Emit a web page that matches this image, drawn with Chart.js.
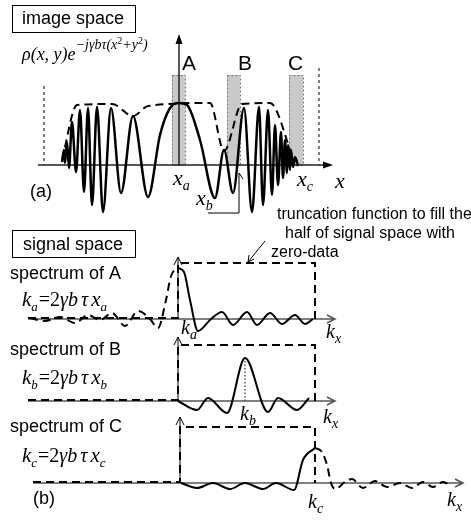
<!DOCTYPE html>
<html>
<head>
<meta charset="utf-8">
<script src="https://cdn.jsdelivr.net/npm/chart.js"></script>
<style>
body { margin: 0; background: #fff; }
#wrap { width: 471px; height: 520px; position: relative; }
</style>
</head>
<body>
<div id="wrap"><canvas id="myChart"></canvas></div>
<script>
// All values are in figure units (x: 0..471 left to right, y: 0..520 top to bottom)

// (a) image space: chirped signal and its envelope
let chirpPoints = [[62,162],[64,150],[65,163],[67,142],[69,168],[72,122],[76,172],[80,110],[84,192],[88,108],
    [92,205],[97,107],[103,212],[111,108],[121,193],[133,116],[148,197],[160,135],[170,108],[179,103],
    [187,105],[200,140],[215,198],[224,150],[233,193],[244,108],[252,212],[259,107],[263,205],[268,110],
    [272,195],[275,125],[278,185],[281,132],[283,178],[285,140],[287,173],[288,145],[290,170],[291,150],
    [293,167],[295,157],[298,166]];
let envelopePoints = [[62,160],[77,105],[112,104],[133,116],[148,106],[210,103],[224,151],[242,104],[270,103],[293,158]];

// windows A, B, C
let windowLabels = ["A", "B", "C"];
let windowFrom = [172, 227, 289];
let windowTo = [185, 240, 303];
let windowLabelX = [182, 238, 288];

// (b) signal space: spectra of the three windows
let spectrumA = [[178,268],[184,272],[190,300],[198,331],[210,320],[222,312],[233,325],[247,312],[257,325],[270,313],[282,324],[295,315],[305,324],[313,319]];
let spectrumALost = [[30,318],[45,321],[60,317],[75,323],[88,315],[100,320],[112,313],[125,326],[138,311],[150,319],[158,328],[166,300],[171,276],[178,268]];
let spectrumB = [[178,401],[197,410],[208,398],[227,413],[245,358],[268,412],[278,398],[297,410],[309,398]];
let spectrumC = [[181,483],[197,488],[213,483],[230,489],[245,483],[263,489],[276,483],[294,490],[303,460],[315,448]];
let spectrumCLost = [[315,448],[322,452],[327,465],[331,483],[335,489],[345,482],[352,479],[363,488],[375,481],[387,487],[400,483],[412,488],[423,482],[433,487],[443,482],[448,484]];

// truncation functions (zero left of k, one up to the band edge)
let truncA = [[28,318],[178,318],[178,263],[315,263],[315,319]];
let truncB = [[28,400],[178,400],[178,345],[315,345],[315,401]];
let truncC = [[33,482],[180,482],[180,427],[315,427],[315,483]];

// axes of each panel: [x from, x to, y of axis, x of vertical, y top of vertical]
let axisImage = [38, 333, 165, 179, 34];
let axisSpecA = [28, 335, 319, 178, 257];
let axisSpecB = [28, 335, 401, 178, 337];
let axisSpecC = [33, 463, 483, 180, 417];

const serif = '"Liberation Serif", "Times New Roman", serif';
const sans = 'Arial, "Liberation Sans", sans-serif';

let toXY = pts => pts.map(p => ({ x: p[0], y: p[1] }));

let curve = (pts, dashed, width) => ({
    data: toXY(pts),
    showLine: true,
    borderColor: '#000',
    borderWidth: width,
    borderDash: dashed ? [8, 5] : [],
    pointRadius: 0,
    fill: false,
    cubicInterpolationMode: 'monotone'
});

let step = (pts) => ({
    data: toXY(pts),
    showLine: true,
    borderColor: '#000',
    borderWidth: 2,
    borderDash: [8, 5],
    pointRadius: 0,
    fill: false,
    tension: 0
});

// Draw a run of text pieces (sub/superscripts) from a starting point
let rich = (ctx, x, y, parts) => {
    let cx = x;
    parts.forEach(p => {
        ctx.font = (p.i ? 'italic ' : '') + p.s + 'px ' + serif;
        ctx.fillText(p.t, cx, y + (p.dy || 0));
        cx += ctx.measureText(p.t).width + (p.gap || 0);
    });
};

let formula = (k, sub) => [
    { t: k, i: true, s: 21 }, { t: sub, i: true, s: 13, dy: 5, gap: 1 },
    { t: '=2', s: 20 }, { t: 'γb', i: true, s: 20, gap: 3 }, { t: 'τ', i: true, s: 20, gap: 3 },
    { t: 'x', i: true, s: 21 }, { t: sub, i: true, s: 13, dy: 5 }
];

let figurePlugin = {
    id: 'figure',
    beforeDatasetsDraw(chart) {
        const ctx = chart.ctx;
        const X = v => chart.scales.x.getPixelForValue(v);
        const Y = v => chart.scales.y.getPixelForValue(v);
        ctx.save();

        // gray windows with dotted frames
        windowLabels.forEach((lab, i) => {
            ctx.fillStyle = '#c9c9c9';
            ctx.fillRect(X(windowFrom[i]), Y(75), X(windowTo[i]) - X(windowFrom[i]), Y(165) - Y(75));
            ctx.setLineDash([2, 2]);
            ctx.strokeStyle = '#777';
            ctx.lineWidth = 1;
            ctx.strokeRect(X(windowFrom[i]) + 0.5, Y(75) + 0.5, X(windowTo[i]) - X(windowFrom[i]), Y(165) - Y(75));
        });

        // thin dashed limits of the object
        ctx.setLineDash([3, 3]);
        ctx.strokeStyle = '#000';
        ctx.beginPath();
        ctx.moveTo(X(44), Y(86)); ctx.lineTo(X(44), Y(165));
        ctx.moveTo(X(319), Y(68)); ctx.lineTo(X(319), Y(165));
        ctx.stroke();

        // dotted line under the peak of B
        ctx.setLineDash([1.5, 2]);
        ctx.beginPath();
        ctx.moveTo(X(245), Y(401)); ctx.lineTo(X(245), Y(360));
        ctx.stroke();
        ctx.setLineDash([]);

        // image space axes with filled arrow heads
        let a = axisImage;
        ctx.strokeStyle = '#222';
        ctx.lineWidth = 1.5;
        ctx.beginPath();
        ctx.moveTo(X(a[0]), Y(a[2])); ctx.lineTo(X(a[1]) - 6, Y(a[2]));
        ctx.moveTo(X(a[3]), Y(a[2])); ctx.lineTo(X(a[3]), Y(a[4]) + 6);
        ctx.stroke();
        ctx.fillStyle = '#000';
        ctx.beginPath();
        ctx.moveTo(X(a[1]), Y(a[2])); ctx.lineTo(X(a[1]) - 10, Y(a[2]) - 3.5); ctx.lineTo(X(a[1]) - 10, Y(a[2]) + 3.5);
        ctx.closePath(); ctx.fill();
        ctx.beginPath();
        ctx.moveTo(X(a[3]), Y(a[4])); ctx.lineTo(X(a[3]) - 3.5, Y(a[4]) + 10); ctx.lineTo(X(a[3]) + 3.5, Y(a[4]) + 10);
        ctx.closePath(); ctx.fill();

        // signal space axes with open arrow heads
        [axisSpecA, axisSpecB, axisSpecC].forEach(s => {
            ctx.strokeStyle = '#555';
            ctx.lineWidth = 1.5;
            ctx.beginPath();
            ctx.moveTo(X(s[0]), Y(s[2])); ctx.lineTo(X(s[1]), Y(s[2]));
            ctx.moveTo(X(s[1]) - 8, Y(s[2]) - 4); ctx.lineTo(X(s[1]), Y(s[2])); ctx.lineTo(X(s[1]) - 8, Y(s[2]) + 4);
            ctx.stroke();
            ctx.strokeStyle = '#000';
            ctx.lineWidth = 1;
            ctx.beginPath();
            ctx.moveTo(X(s[3]), Y(s[2])); ctx.lineTo(X(s[3]), Y(s[4]));
            ctx.moveTo(X(s[3]) - 4, Y(s[4]) + 8); ctx.lineTo(X(s[3]), Y(s[4])); ctx.lineTo(X(s[3]) + 4, Y(s[4]) + 8);
            ctx.stroke();
        });
        ctx.restore();
    },
    afterDatasetsDraw(chart) {
        const ctx = chart.ctx;
        const X = v => chart.scales.x.getPixelForValue(v);
        const Y = v => chart.scales.y.getPixelForValue(v);
        ctx.save();
        ctx.fillStyle = '#000';
        ctx.strokeStyle = '#000';
        ctx.textBaseline = 'alphabetic';

        // framed titles
        ctx.lineWidth = 1;
        ctx.strokeRect(X(12) + 0.5, Y(5) + 0.5, 123, 27);
        ctx.strokeRect(X(12) + 0.5, Y(230) + 0.5, 123, 27);
        ctx.font = '18px ' + sans;
        ctx.textAlign = 'center';
        ctx.fillText('image space', X(73), Y(24));
        ctx.fillText('signal space', X(73), Y(250));
        ctx.textAlign = 'left';

        // window names
        ctx.font = '21px ' + sans;
        windowLabels.forEach((lab, i) => ctx.fillText(lab, X(windowLabelX[i]), Y(70)));

        ctx.font = '18px ' + sans;
        ctx.fillText('(a)', X(30), Y(197));
        ctx.fillText('(b)', X(33), Y(504));
        ctx.fillText('spectrum of A', X(10), Y(279));
        ctx.fillText('spectrum of B', X(10), Y(355));
        ctx.fillText('spectrum of C', X(10), Y(432));

        ctx.font = '16px ' + sans;
        ctx.fillText('truncation function to fill the', X(277), Y(219));
        ctx.fillText('half of signal space with', X(285), Y(238));
        ctx.fillText('zero-data', X(271), Y(257));

        // arrow from the note to the truncation function
        ctx.lineWidth = 1;
        ctx.beginPath();
        ctx.moveTo(X(265), Y(241)); ctx.lineTo(X(248), Y(262));
        ctx.moveTo(X(249), Y(255)); ctx.lineTo(X(248), Y(262)); ctx.lineTo(X(254), Y(259));
        ctx.stroke();

        // pointer to x_b
        ctx.beginPath();
        ctx.moveTo(X(208), Y(213)); ctx.lineTo(X(239), Y(213)); ctx.lineTo(X(239), Y(173));
        ctx.lineTo(X(243), Y(179));
        ctx.stroke();

        // image space formula
        rich(ctx, X(22), Y(60), [
            { t: 'ρ(x, y)e', i: true, s: 18 },
            { t: '−jγbτ(x', i: true, s: 14, dy: -11 },
            { t: '2', s: 10, dy: -16 },
            { t: '+y', i: true, s: 14, dy: -11 },
            { t: '2', s: 10, dy: -16 },
            { t: ')', i: true, s: 14, dy: -11 }
        ]);

        // coordinate labels
        rich(ctx, X(173), Y(185), [{ t: 'x', i: true, s: 22 }, { t: 'a', i: true, s: 14, dy: 5 }]);
        rich(ctx, X(196), Y(205), [{ t: 'x', i: true, s: 22 }, { t: 'b', i: true, s: 14, dy: 5 }]);
        rich(ctx, X(297), Y(186), [{ t: 'x', i: true, s: 22 }, { t: 'c', i: true, s: 14, dy: 5 }]);
        rich(ctx, X(335), Y(188), [{ t: 'x', i: true, s: 22 }]);

        rich(ctx, X(22), Y(306), formula('k', 'a'));
        rich(ctx, X(22), Y(384), formula('k', 'b'));
        rich(ctx, X(22), Y(462), formula('k', 'c'));

        let kLabel = (x, y, sub) => rich(ctx, X(x), Y(y), [{ t: 'k', i: true, s: 20 }, { t: sub, i: true, s: 14, dy: 5 }]);
        kLabel(181, 334, 'a');
        kLabel(326, 338, 'x');
        kLabel(240, 420, 'b');
        kLabel(323, 423, 'x');
        kLabel(308, 508, 'c');
        kLabel(447, 506, 'x');
        ctx.restore();
    }
};

const ctx = document.getElementById('myChart').getContext('2d');
let myChart = new Chart(ctx, {
    type: 'scatter',
    data: {
        datasets: [
            curve(envelopePoints, true, 2),
            curve(chirpPoints, false, 2.5),
            step(truncA),
            step(truncB),
            step(truncC),
            curve(spectrumALost, true, 2),
            curve(spectrumA, false, 2),
            curve(spectrumB, false, 2),
            curve(spectrumC, false, 2),
            curve(spectrumCLost, true, 2)
        ]
    },
    options: {
        responsive: true,
        maintainAspectRatio: false,
        animation: false,
        layout: { padding: 0 },
        plugins: { legend: { display: false }, tooltip: { enabled: false } },
        scales: {
            x: { type: 'linear', min: 0, max: 471, display: false },
            y: { type: 'linear', min: 0, max: 520, reverse: true, display: false }
        }
    },
    plugins: [figurePlugin]
});
</script>
</body>
</html>
